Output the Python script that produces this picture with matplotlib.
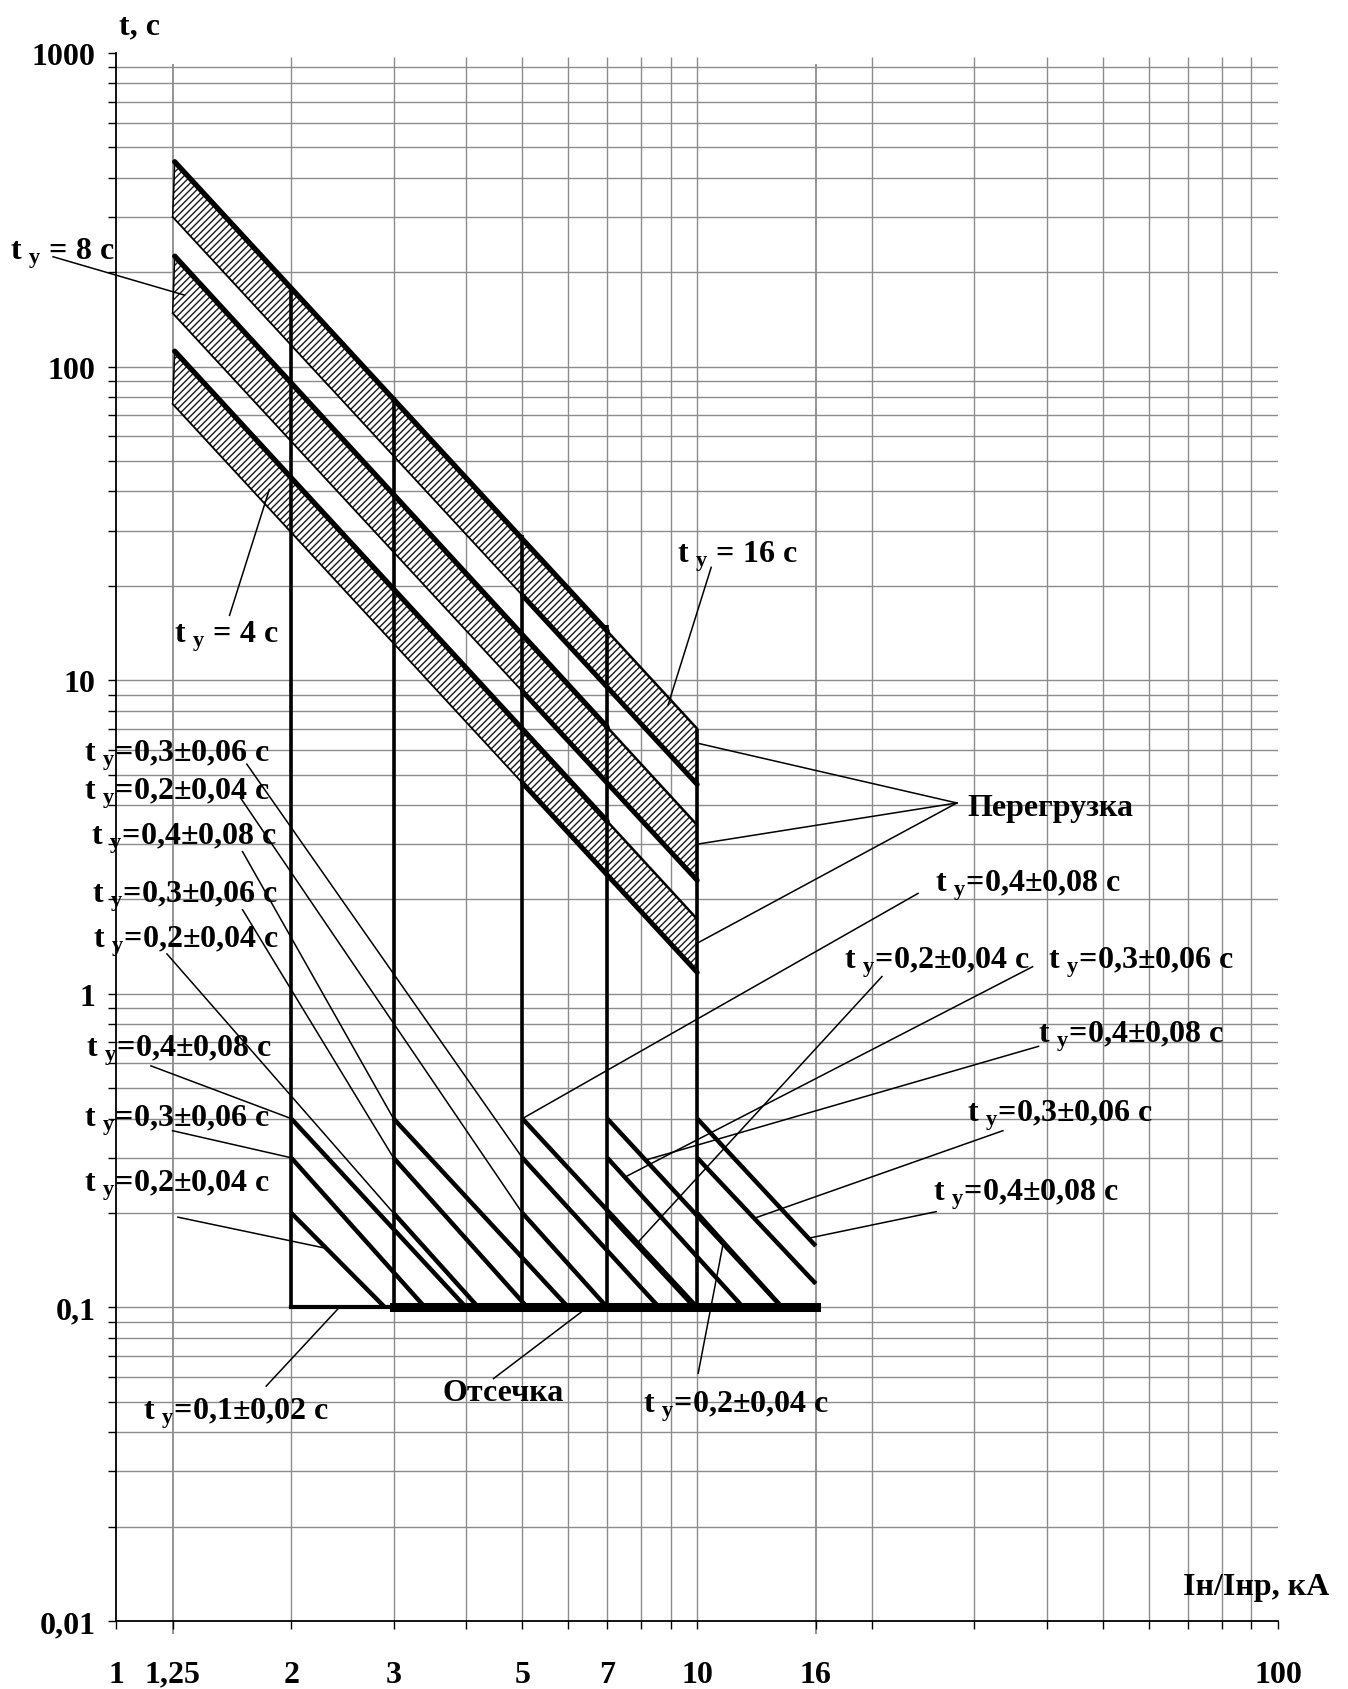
import numpy as np
import matplotlib
matplotlib.use("Agg")
import matplotlib.pyplot as plt
from matplotlib.ticker import FixedLocator, FixedFormatter, NullFormatter

plt.rcParams['font.family'] = ['Liberation Serif', 'DejaVu Serif']
plt.rcParams['font.weight'] = 'bold'
plt.rcParams['mathtext.fontset'] = 'custom'
plt.rcParams['mathtext.rm'] = 'Liberation Serif:bold'
plt.rcParams['mathtext.it'] = 'Liberation Serif:bold'
plt.rcParams['mathtext.bf'] = 'Liberation Serif:bold'
plt.rcParams['hatch.linewidth'] = 1.0

# --- перегрузка: три заштрихованные полосы (t при I=1,25 и I=10)
band_x = [1.25, 10]
band_hi = [[450, 7.0], [225, 3.45], [112, 1.73]]
band_lo = [[300, 4.65], [148, 2.3], [76, 1.17]]

# --- селективные вертикали
sel_x = [2, 3, 5, 7, 10]
sel_top = [180, 80, 29, 15, 7.0]

# --- наклонные характеристики селективной защиты
diag_x0 = [2, 2, 2, 3, 3, 3, 5, 5, 5, 7, 7, 7, 10, 10, 10]
diag_t0 = [0.4, 0.3, 0.2, 0.4, 0.3, 0.2, 0.4, 0.3, 0.2, 0.4, 0.3, 0.2, 0.4, 0.3, 0.2]
diag_x1 = [4.0, 3.4, 2.9, 6.0, 5.1, 4.2, 10.0, 8.6, 7.0, 14.0, 12.0, 9.9, 16, 16, 14.0]
diag_t1 = [0.1, 0.1, 0.1, 0.1, 0.1, 0.1, 0.1, 0.1, 0.1, 0.1, 0.1, 0.1, 0.157, 0.119, 0.1]

# --- отсечка
cut_thin_x = [2, 3]
cut_thick_x = [3, 16]
cut_t = 0.1

# --- сетка и подписи осей
grid_x = [2, 3, 4, 5, 6, 7, 8, 9, 10, 20, 30, 40, 50, 60, 70, 80, 90]
grid_x_long = [1.25, 16]
xlab_pos = [1, 1.25, 2, 3, 5, 7, 10, 16, 100]
xlab_txt = ['1', '1,25', '2', '3', '5', '7', '10', '16', '100']
xminor = [4, 6, 8, 9, 20, 30, 40, 50, 60, 70, 80, 90]
ylab_pos = [0.01, 0.1, 1, 10, 100, 1000]
ylab_txt = ['0,01', '0,1', '1', '10', '100', '1000']

SUB = r"$_{\mathrm{у}}$"

# подписи: текст, (x, t) текста, начало выноски, конец выноски
labels = [
    ("t " + SUB + " = 8 с", (0.655, 231), (0.778, 224), (1.31, 169)),
    ("t " + SUB + " = 16 с", (9.22, 24.9), (10.57, 22.9), (8.91, 8.34)),
    ("t " + SUB + " = 4 с", (1.259, 13.9), (1.566, 16.1), (1.834, 40.6)),
    ("t " + SUB + "=0,3±0,06 с", (0.880, 5.79), (1.677, 5.40), (5, 0.3)),
    ("t " + SUB + "=0,2±0,04 с", (0.880, 4.39), (1.635, 4.22), (5, 0.2)),
    ("t " + SUB + "=0,4±0,08 с", (0.903, 3.15), (1.649, 2.84), (3, 0.4)),
    ("t " + SUB + "=0,3±0,06 с", (0.906, 2.05), (1.649, 1.854), (3, 0.3)),
    ("t " + SUB + "=0,2±0,04 с", (0.910, 1.474), (1.222, 1.34), (3, 0.2)),
    ("t " + SUB + "=0,4±0,08 с", (0.887, 0.663), (1.147, 0.589), (2, 0.4)),
    ("t " + SUB + "=0,3±0,06 с", (0.880, 0.396), (1.249, 0.366), (2, 0.3)),
    ("t " + SUB + "=0,2±0,04 с", (0.880, 0.246), (1.276, 0.194), (2.27, 0.155)),
    ("t " + SUB + "=0,4±0,08 с", (25.7, 2.22), (24.0, 2.09), (5, 0.4)),
    ("t " + SUB + "=0,2±0,04 с", (17.9, 1.268), (20.8, 1.135), (7.85, 0.159)),
    ("t " + SUB + "=0,3±0,06 с", (40.1, 1.268), (37.8, 1.22), (7.5, 0.26)),
    ("t " + SUB + "=0,4±0,08 с", (38.6, 0.734), (38.7, 0.68), (8.15, 0.295)),
    ("t " + SUB + "=0,3±0,06 с", (29.2, 0.412), (33.6, 0.366), (12.5, 0.192)),
    ("t " + SUB + "=0,4±0,08 с", (25.5, 0.231), (25.8, 0.202), (15.5, 0.166)),
    ("t " + SUB + "=0,2±0,04 с", (8.08, 0.0487), (10.04, 0.0617), (11.1, 0.162)),
    ("Отсечка", (3.65, 0.0535), (4.46, 0.0593), (6.47, 0.1)),
    ("t " + SUB + "=0,1±0,02 с", (1.113, 0.046), (1.811, 0.0561), (2.42, 0.1)),
]
over_txt = (29.2, 3.93)
over_from = (28.0, 4.06)
over_to = [(10, 6.3), (10, 3.0), (10, 1.45)]


def on_line(x, x0, t0, x1, t1):
    k = np.log(t1 / t0) / np.log(x1 / x0)
    return t0 * (x / x0) ** k


fig = plt.figure(figsize=(13.48, 16.9), dpi=100)
ax = fig.add_axes([116.4 / 1348, 68 / 1690, (1278 - 116.4) / 1348, (1622 - 54) / 1690])
ax.set_xscale('log')
ax.set_yscale('log')
ax.set_xlim(1, 100)
ax.set_ylim(0.01, 1000)

GC = '#8c8c8c'
grid_t = [m * 10.0 ** k for k in range(-2, 3) for m in range(1, 10)]
grid_t = [g for g in grid_t if g > 0.011]
ax.hlines(grid_t, 1, 100, colors=GC, lw=1.0, zorder=0)
ax.vlines(grid_x, 0.01, 970, colors=GC, lw=1.0, zorder=0)
ax.vlines(grid_x_long, 0.0091, 920, colors=GC, lw=1.3, zorder=0, clip_on=False)

# полосы перегрузки
for hi, lo in zip(band_hi, band_lo):
    xs = [1.26, band_x[1], band_x[1], band_x[0]]
    ts = [hi[0], hi[1], lo[1], lo[0]]
    ax.fill(xs, ts, facecolor='white', edgecolor='#1a1a1a', hatch='/////', lw=0, zorder=1)
    ax.plot([1.26, band_x[0]], [hi[0], lo[0]], color='k', lw=1.1, zorder=3)
    xm = 7.0
    tm = on_line(xm, 1.26, hi[0], band_x[1], hi[1])
    ax.plot([1.26, xm], [hi[0], tm], color='k', lw=3.8, solid_capstyle='round', zorder=4)
    ax.plot([xm, band_x[1]], [tm, hi[1]], color='k', lw=1.8, solid_capstyle='round', zorder=4)
    xl = 5.0
    tl = on_line(xl, band_x[0], lo[0], band_x[1], lo[1])
    ax.plot([band_x[0], xl], [lo[0], tl], color='k', lw=1.3, zorder=4)
    ax.plot([xl, band_x[1]], [tl, lo[1]], color='k', lw=3.6, solid_capstyle='round', zorder=4)

# вертикали селективности
ax.vlines(sel_x, cut_t, sel_top, colors='k', lw=2.6, zorder=5)

# наклонные
for x0, t0, x1, t1 in zip(diag_x0, diag_t0, diag_x1, diag_t1):
    ax.plot([x0, x1], [t0, t1], color='k', lw=3.2, solid_capstyle='butt', zorder=5)

# отсечка
ax.plot(cut_thin_x, [cut_t, cut_t], color='k', lw=3.0, zorder=6)
ax.plot(cut_thick_x, [cut_t, cut_t], color='k', lw=6.5, zorder=6)

# подписи
FS = 23
for txt, tp, p0, p1 in labels:
    ax.text(tp[0], tp[1], txt, fontsize=FS, fontweight='bold', ha='left', va='center', zorder=8)
    ax.plot([p0[0], p1[0]], [p0[1], p1[1]], color='k', lw=1.1, zorder=7, clip_on=False)

ax.text(over_txt[0], over_txt[1], "Перегрузка", fontsize=FS, fontweight='bold', ha='left', va='center')
for p in over_to:
    ax.plot([over_from[0], p[0]], [over_from[1], p[1]], color='k', lw=1.1, zorder=7)

ax.text(1.094, 1220, "t, с", fontsize=FS, fontweight='bold', ha='center', va='center')
ax.text(68.6, 0.01284, "Iн/Iнр, кА", fontsize=FS, fontweight='bold', ha='left', va='center')

# оси
for s in ['top', 'right']:
    ax.spines[s].set_visible(False)
for s in ['left', 'bottom']:
    ax.spines[s].set_linewidth(1.3)

ax.xaxis.set_major_locator(FixedLocator(xlab_pos))
ax.xaxis.set_major_formatter(FixedFormatter(xlab_txt))
ax.xaxis.set_minor_locator(FixedLocator(xminor))
ax.xaxis.set_minor_formatter(NullFormatter())
ax.yaxis.set_major_locator(FixedLocator(ylab_pos))
ax.yaxis.set_major_formatter(FixedFormatter(ylab_txt))
ax.yaxis.set_minor_locator(FixedLocator([g for g in grid_t if g not in ylab_pos]))
ax.yaxis.set_minor_formatter(NullFormatter())
ax.tick_params(axis='both', which='both', length=6, width=1.0, direction='out', labelsize=FS)
ax.tick_params(axis='x', which='major', pad=22)
ax.tick_params(axis='y', which='major', pad=9)
for lab in ax.get_xticklabels() + ax.get_yticklabels():
    lab.set_fontweight('bold')

fig.savefig('out.png', dpi=100)
